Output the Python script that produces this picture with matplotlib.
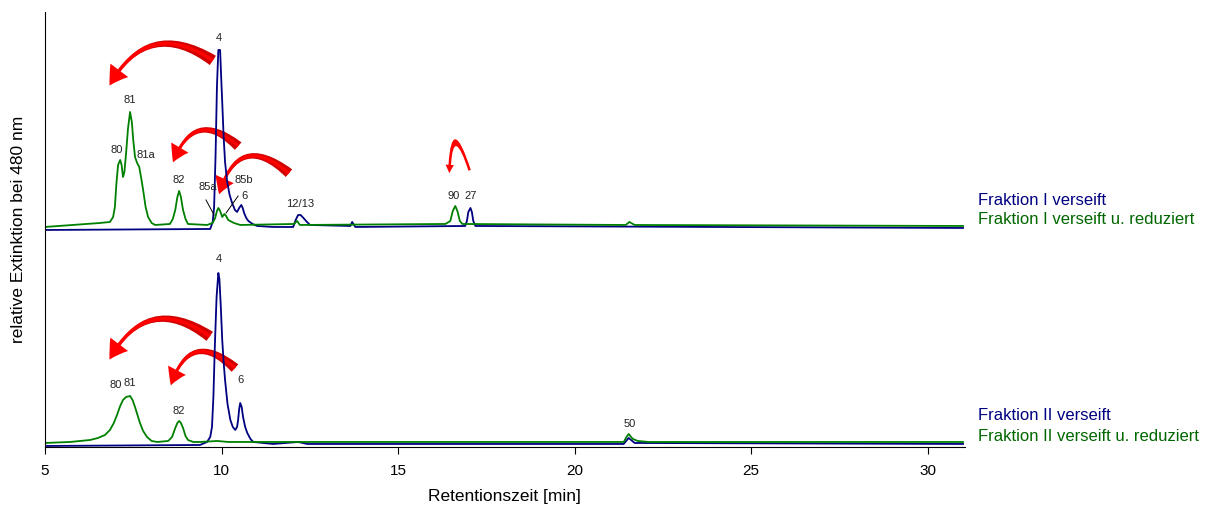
import matplotlib
matplotlib.use("Agg")
import matplotlib.pyplot as plt
from matplotlib.patches import FancyArrowPatch

plt.rcParams['font.family'] = ['Liberation Sans', 'DejaVu Sans']

# ---- data (time [min], relative signal) ----
f1_vers_t = [5.0, 9.68, 9.75, 9.79, 9.83, 9.87, 9.91, 9.96, 9.99, 10.02, 10.06, 10.10, 10.16,
             10.23, 10.30, 10.38, 10.44, 10.50, 10.56, 10.60, 10.64, 10.70, 10.76, 10.88, 11.01,
             11.46, 12.03, 12.10, 12.17, 12.24, 12.32, 12.42, 12.51, 13.65, 13.70, 13.79,
             16.90, 16.95, 16.99, 17.05, 17.09, 17.13, 17.19, 31.0]
f1_vers_y = [217, 218, 225, 240, 290, 360, 397, 397, 370, 345, 310, 285, 265,
             252, 244, 237, 235, 239, 242, 239, 234, 229, 226, 223, 221,
             220, 220, 227, 232, 232, 229, 225, 222, 221, 225, 220,
             221, 226, 235, 239, 235, 226, 221, 219]

f1_red_t = [5.0, 6.56, 6.84, 6.93, 6.98, 7.02, 7.07, 7.13, 7.17, 7.21, 7.25, 7.30, 7.35, 7.41,
            7.46, 7.50, 7.55, 7.61, 7.67, 7.72, 7.78, 7.85, 7.92, 8.02, 8.12, 8.54, 8.62, 8.69,
            8.75, 8.80, 8.85, 8.91, 8.98, 9.05, 9.59, 9.75, 9.82, 9.87, 9.91, 9.96, 10.02, 10.08,
            10.13, 10.19, 10.35, 10.53, 12.05, 12.14, 12.22, 16.34, 16.48, 16.55, 16.62, 16.68,
            16.75, 16.82, 21.45, 21.55, 21.70, 31.0]
f1_red_y = [220, 224, 225, 230, 240, 262, 282, 287, 282, 270, 275, 295, 318, 335,
            325, 307, 290, 284, 280, 270, 257, 240, 230, 224, 222, 223, 228, 237,
            250, 256, 250, 237, 228, 223, 222, 224, 229, 236, 239, 236, 230, 233,
            231, 227, 224, 222, 223, 226, 222, 223, 226, 236, 241, 236,
            226, 223, 222, 225, 222, 221]

f2_vers_t = [5.0, 9.39, 9.59, 9.68, 9.73, 9.77, 9.81, 9.86, 9.91, 9.94, 9.98, 10.02, 10.06,
             10.10, 10.17, 10.25, 10.32, 10.39, 10.44, 10.47, 10.50, 10.53, 10.57, 10.61, 10.67,
             10.73, 10.82, 10.90, 11.46, 12.17, 12.43, 21.39, 21.53, 21.70, 31.0]
f2_vers_y = [1, 2, 5, 10, 20, 50, 100, 150, 174, 168, 140, 107, 85,
             67, 43, 27, 20, 17, 20, 27, 38, 44, 40, 30, 20,
             14, 8, 5, 3, 5, 3, 3, 9, 4, 3]

f2_red_t = [5.0, 5.71, 6.28, 6.50, 6.70, 6.84, 6.95, 7.04, 7.13, 7.21, 7.30, 7.41, 7.48, 7.55,
            7.62, 7.69, 7.78, 7.89, 8.02, 8.18, 8.49, 8.60, 8.69, 8.75, 8.80, 8.85, 8.91, 8.98,
            9.05, 9.20, 9.39, 9.88, 10.19, 12.17, 21.39, 21.47, 21.53, 21.60, 21.65, 21.79,
            22.10, 31.0]
f2_red_y = [4, 5, 7, 9, 12, 17, 24, 32, 41, 47, 50, 51, 47, 40,
            32, 24, 16, 10, 6, 5, 6, 10, 19, 24, 26, 24, 19, 11,
            7, 5, 5, 6, 5, 5, 5, 10, 13, 10, 8, 6,
            5, 5]

peak_labels = ["4", "81", "80", "81a", "82", "85a", "85b", "6", "12/13", "90", "27",
               "4", "80", "81", "82", "6", "50"]
peak_x = [9.91, 7.41, 7.04, 7.86, 8.80, 9.62, 10.64, 10.64, 12.23, 16.57, 17.05,
          9.91, 7.01, 7.41, 8.80, 10.53, 21.56]
peak_y = [409, 347, 297, 292, 267, 260, 267, 251, 243, 251, 251,
          188, 62, 64, 36, 67, 23]

xticks = [5, 10, 15, 20, 25, 30]
legend_texts = ["Fraktion I verseift", "Fraktion I verseift u. reduziert",
                "Fraktion II verseift", "Fraktion II verseift u. reduziert"]

BLUE = '#000080'
GREEN = '#008000'

fig = plt.figure(figsize=(12.09, 5.14), dpi=100)
ax = fig.add_axes([0.0372, 0.1304, 0.798 - 0.0372, 0.9767 - 0.1304])

ax.plot(f1_vers_t, f1_vers_y, color=BLUE, lw=1.3)
ax.plot(f1_red_t, f1_red_y, color=GREEN, lw=1.3)
ax.plot(f2_vers_t, f2_vers_y, color=BLUE, lw=1.3)
ax.plot(f2_red_t, f2_red_y, color=GREEN, lw=1.3)

ax.set_xlim(5, 31.05)
ax.set_ylim(0, 435)
ax.set_xticks(xticks)
ax.set_xticklabels([str(v) for v in xticks])
ax.set_yticks([])
ax.tick_params(axis='x', direction='out', length=5, labelsize=11, pad=7)
for s in ['top', 'right']:
    ax.spines[s].set_visible(False)
ax.set_xlabel("Retentionszeit [min]", fontsize=12.5, labelpad=8)
ax.set_ylabel("relative Extinktion bei 480 nm", fontsize=12.5, labelpad=14)

for lab, x, y in zip(peak_labels, peak_x, peak_y):
    ax.text(x, y, lab, fontsize=8, ha='center', va='center', color='#222222')

# leader lines for 85a / 85b
ax.plot([9.56, 9.79], [247, 232], color='black', lw=0.7)
ax.plot([10.47, 10.13], [251, 234], color='black', lw=0.7)

# red curved arrows (tail, head, curvature, scale)
arrows = [((9.82, 385), (6.79, 359), 0.56, 1.0),
          ((10.53, 299), (8.60, 282), 0.76, 0.9),
          ((11.97, 272), (9.91, 250), 0.8, 0.9),
          ((17.05, 274), (16.45, 271), 3.0, 0.45),
          ((9.73, 109), (6.79, 85), 0.58, 1.0),
          ((10.44, 77), (8.54, 59), 0.8, 0.9)]
for tail, head, rad, sc in arrows:
    cs = "arc3,rad=%.2f" % rad
    if sc > 0.5:
        w = FancyArrowPatch(tail, head, connectionstyle=cs,
                            arrowstyle="wedge,tail_width=%.1f,shrink_factor=0.5" % (8 * sc),
                            color='#d00000', lw=0, mutation_scale=1)
        ax.add_patch(w)
        style = "simple,head_width=%.1f,head_length=%.1f,tail_width=%.1f" % (16 * sc, 13 * sc, 2.5 * sc)
    else:
        style = "simple,head_width=6,head_length=6,tail_width=1.8"
    a = FancyArrowPatch(tail, head, connectionstyle=cs,
                        arrowstyle=style, color='#ff0000', lw=0, mutation_scale=1)
    ax.add_patch(a)

legend_pos = [0.609, 0.572, 0.191, 0.150]
legend_cols = [BLUE, '#006600', BLUE, '#006600']
for t, yy, c in zip(legend_texts, legend_pos, legend_cols):
    fig.text(0.809, yy, t, color=c, fontsize=12, va='center', ha='left')

fig.savefig("out.png", dpi=100)
